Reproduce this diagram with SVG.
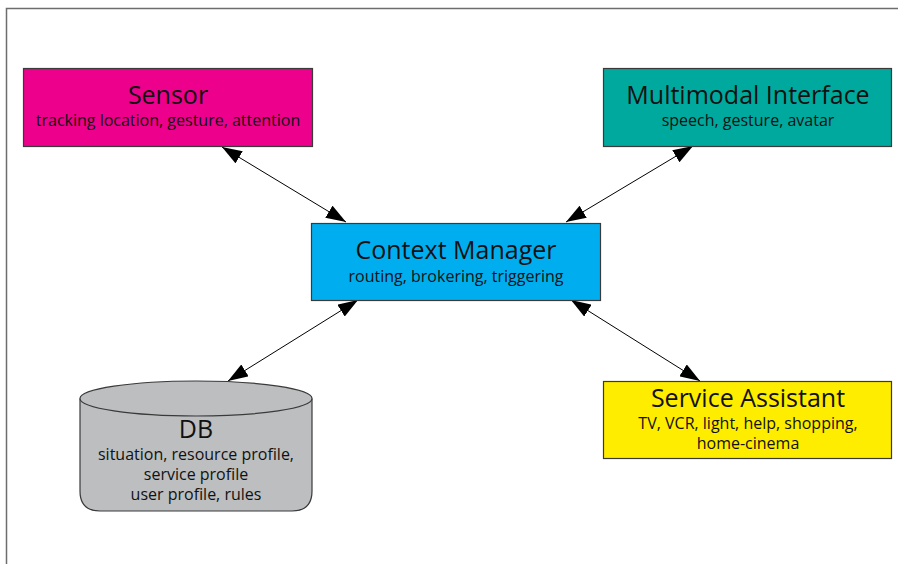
<svg xmlns="http://www.w3.org/2000/svg" width="898" height="564" viewBox="0 0 898 564">
<defs>
<marker id="ah" viewBox="0 0 20 14" refX="20" refY="7" markerWidth="20" markerHeight="14" markerUnits="userSpaceOnUse" orient="auto-start-reverse">
<path d="M0,0 L20,7 L0,14 Z" fill="#000"/>
</marker>
<style>
.box{stroke:#3a3a3a;stroke-width:1.2}
.t{font-family:"Open Sans","Noto Sans","Liberation Sans",sans-serif;fill:#111;text-anchor:middle}
.h{font-size:25px}
.s{font-size:16px}
.c{stroke:#000;stroke-width:1;fill:none;marker-start:url(#ah);marker-end:url(#ah)}
</style>
</defs>
<rect width="898" height="564" fill="#fff"/>
<path d="M6.5,564 V8.5 H898" fill="none" stroke="#6d6d6d" stroke-width="1.5"/>
<g id="connectors">
<line class="c" x1="222" y1="147" x2="346" y2="222"/>
<line class="c" x1="693" y1="146" x2="566" y2="222"/>
<line class="c" x1="358" y1="300" x2="228" y2="381"/>
<line class="c" x1="571" y1="300" x2="700" y2="381"/>
</g>
<g id="sensor">
<rect class="box" x="23.5" y="68.5" width="289" height="78" fill="#EC008C"/>
<text class="t h" x="168" y="104">Sensor</text>
<text class="t s" x="168" y="126">tracking location, gesture, attention</text>
</g>
<g id="multimodal">
<rect class="box" x="603.5" y="68.5" width="288" height="78" fill="#00A99D"/>
<text class="t h" x="748" y="104">Multimodal Interface</text>
<text class="t s" x="748" y="126">speech, gesture, avatar</text>
</g>
<g id="context">
<rect class="box" x="311.5" y="223.5" width="289" height="77" fill="#00AEEF"/>
<text class="t h" x="456" y="259">Context Manager</text>
<text class="t s" x="456" y="282">routing, brokering, triggering</text>
</g>
<g id="service">
<rect class="box" x="603.5" y="381.5" width="288" height="77" fill="#FFED00"/>
<text class="t h" x="748" y="407">Service Assistant</text>
<text class="t s" x="748" y="429">TV, VCR, light, help, shopping,</text>
<text class="t s" x="748" y="449">home-cinema</text>
</g>
<g id="db">
<path class="box" d="M80,398.5 V491 Q80,511 100,511 H292 Q312,511 312,491 V398.5" fill="#BCBEC0"/>
<ellipse class="box" cx="196" cy="398.5" rx="116" ry="17.5" fill="#BCBEC0"/>
<text class="t h" x="196" y="438">DB</text>
<text class="t s" x="196" y="460">situation, resource profile,</text>
<text class="t s" x="196" y="480">service profile</text>
<text class="t s" x="196" y="500">user profile, rules</text>
</g>
</svg>
